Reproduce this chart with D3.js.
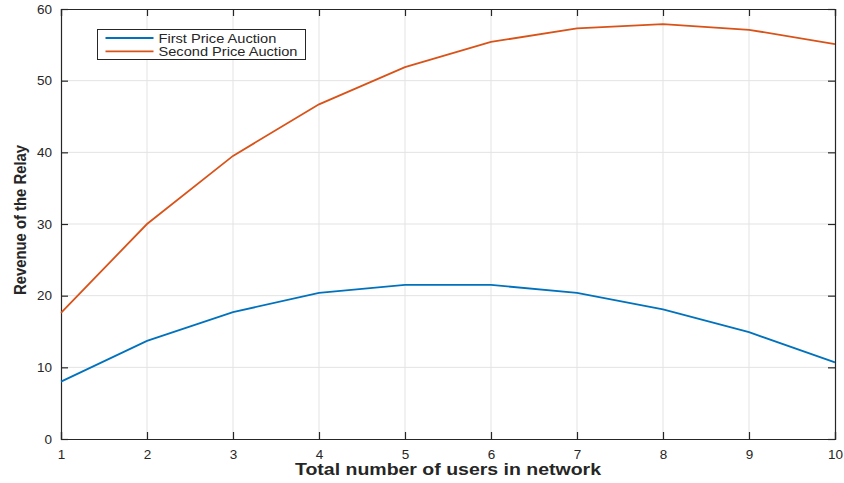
<!DOCTYPE html>
<html>
<head>
  <script src="https://cdn.jsdelivr.net/npm/d3@7"></script>
  <style>
    body { margin: 0; background: #fff; }
    svg text { font-family: "Liberation Sans", Arial, sans-serif; fill: #262626; }
  </style>
</head>
<body>
  <div id="chart"></div>
  <script>
    // data
    var users = [1, 2, 3, 4, 5, 6, 7, 8, 9, 10]
    var firstPrice = [8.0, 13.7, 17.7, 20.4, 21.5, 21.5, 20.4, 18.1, 14.9, 10.7]
    var secondPrice = [17.6, 30.0, 39.5, 46.7, 51.9, 55.4, 57.3, 57.9, 57.1, 55.1]
    var seriesNames = ['First Price Auction', 'Second Price Auction']
    var seriesColors = ['#0072BD', '#D95319']
    var yTicks = [0, 10, 20, 30, 40, 50, 60]

    var W = 844, H = 483
    var padL = 61, padR = 835, padT = 9, padB = 439

    var svg = d3.select('#chart').append('svg')
      .attr('width', W).attr('height', H)

    var x = d3.scaleLinear().domain([1, 10]).range([padL, padR])
    var y = d3.scaleLinear().domain([0, 60]).range([padB, padT])

    // grid
    svg.append('g').selectAll('line').data(users.slice(1, -1)).join('line')
      .attr('x1', d => x(d)).attr('x2', d => x(d))
      .attr('y1', padT).attr('y2', padB)
      .attr('stroke', '#e3e3e3').attr('stroke-width', 1)
    svg.append('g').selectAll('line').data(yTicks.slice(1, -1)).join('line')
      .attr('x1', padL).attr('x2', padR)
      .attr('y1', d => y(d)).attr('y2', d => y(d))
      .attr('stroke', '#e3e3e3').attr('stroke-width', 1)

    // axes, ticks pointing inward like matlab
    svg.append('g').attr('transform', 'translate(0,' + padB + ')')
      .call(d3.axisBottom(x).tickValues(users).tickSize(-7).tickPadding(10).tickFormat(d3.format('d')))
    svg.append('g').attr('transform', 'translate(' + padL + ',0)')
      .call(d3.axisLeft(y).tickValues(yTicks).tickSize(-7).tickPadding(9))
    svg.append('g').attr('transform', 'translate(0,' + padT + ')')
      .call(d3.axisTop(x).tickValues(users).tickSize(-7).tickFormat(''))
    svg.append('g').attr('transform', 'translate(' + padR + ',0)')
      .call(d3.axisRight(y).tickValues(yTicks).tickSize(-7).tickFormat(''))

    svg.selectAll('.domain').attr('stroke', '#262626').attr('stroke-width', 1.2)
    svg.selectAll('.tick line').attr('stroke', '#262626').attr('stroke-width', 1.2)
    svg.selectAll('.tick text').attr('font-size', 13.5).style('fill', '#262626')
      .style('font-family', '"Liberation Sans", Arial, sans-serif')

    // lines
    var line = d3.line().x((d, i) => x(users[i])).y(d => y(d))
    ;[firstPrice, secondPrice].forEach(function (s, k) {
      svg.append('path').datum(s)
        .attr('d', line)
        .attr('fill', 'none')
        .attr('stroke', seriesColors[k])
        .attr('stroke-width', 1.8)
    })

    // axis labels (the original font is stretched / squeezed, so fit to length)
    svg.append('text')
      .attr('x', 448).attr('y', 475)
      .attr('text-anchor', 'middle')
      .attr('font-size', 16).attr('font-weight', 'bold')
      .attr('textLength', 306).attr('lengthAdjust', 'spacingAndGlyphs')
      .text('Total number of users in network')

    svg.append('text')
      .attr('transform', 'translate(26,220) rotate(-90)')
      .attr('text-anchor', 'middle')
      .attr('font-size', 17).attr('font-weight', 'bold')
      .attr('textLength', 150).attr('lengthAdjust', 'spacingAndGlyphs')
      .text('Revenue of the Relay')

    // legend
    var lg = svg.append('g').attr('transform', 'translate(97.5,29.5)')
    lg.append('rect').attr('width', 208).attr('height', 30)
      .attr('fill', '#fff').attr('stroke', '#262626').attr('stroke-width', 1)
    seriesNames.forEach(function (n, k) {
      var yy = 8.5 + k * 13.3
      lg.append('line').attr('x1', 8).attr('x2', 56).attr('y1', yy).attr('y2', yy)
        .attr('stroke', seriesColors[k]).attr('stroke-width', 1.8)
      lg.append('text')
        .attr('transform', 'translate(61,' + (yy + 4.5) + ') scale(1.17,1)')
        .attr('font-size', 12.5).text(n)
    })
  </script>
</body>
</html>
